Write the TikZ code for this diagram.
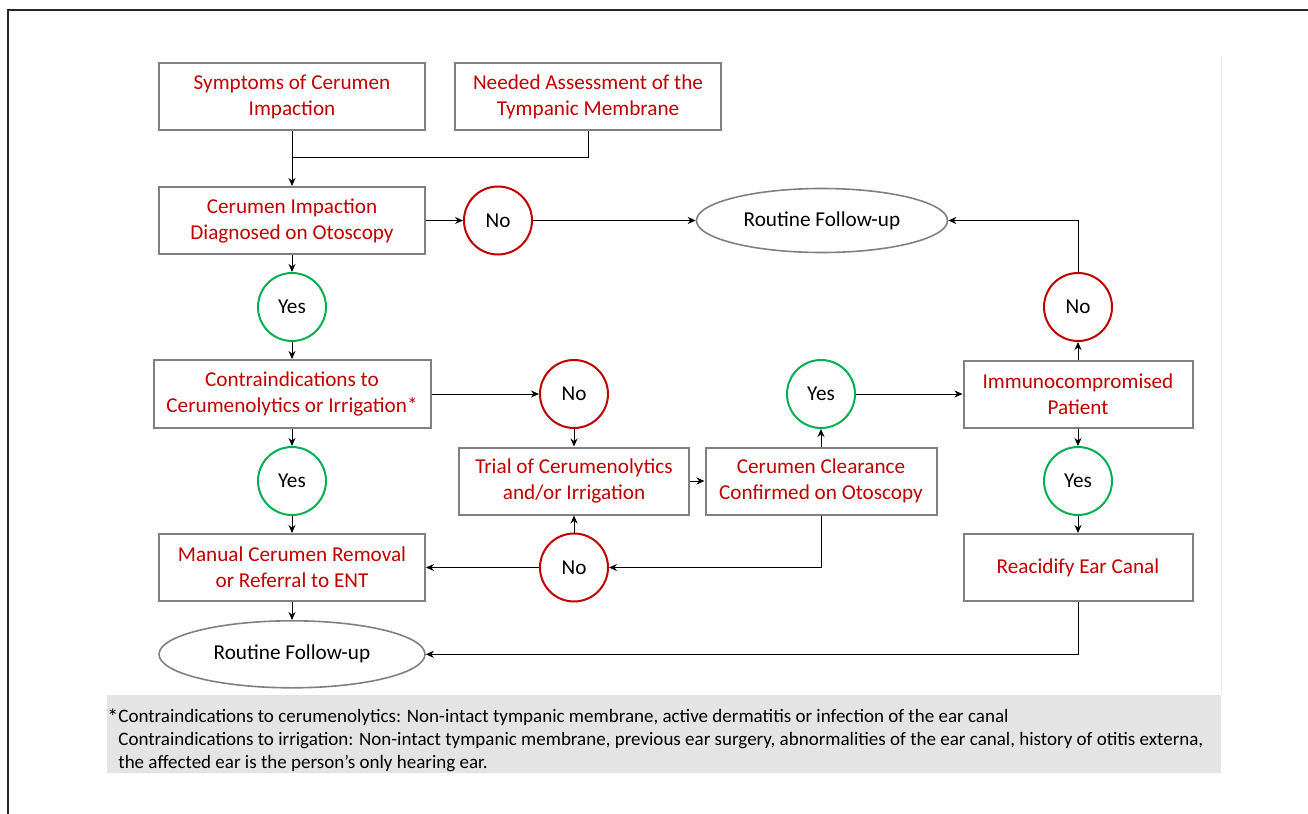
\documentclass[tikz,border=0pt]{standalone}
\usepackage{fontspec}
\setmainfont{Carlito}
\usetikzlibrary{arrows.meta,shapes.geometric,positioning}
\definecolor{flowred}{RGB}{192,0,0}
\definecolor{flowgreen}{RGB}{0,176,80}
\definecolor{boxgray}{RGB}{128,128,128}
\definecolor{notegray}{RGB}{228,228,228}

\begin{document}
\begin{tikzpicture}[
        x=0.5pt, y=-0.5pt,
        node distance=8.5pt,
        every node/.style={font=\fontsize{10.6}{13}\selectfont},
        box/.style={draw=boxgray, line width=1pt, text=flowred, align=center, minimum width=133pt, minimum height=33.5pt, inner sep=2pt},
        yes/.style={circle, draw=flowgreen, line width=1pt, minimum size=34pt, inner sep=0pt},
        no/.style={circle, draw=flowred, line width=1pt, minimum size=34pt, inner sep=0pt},
        followup/.style={ellipse, draw=boxgray, line width=0.8pt, minimum width=133pt, minimum height=33.5pt},
        arrow/.style={-{Stealth[length=4pt,width=3.5pt]}, line width=0.5pt},
        link/.style={line width=0.5pt}
    ]
        \useasboundingbox (0,0) rectangle (1308,814);
        % frame and note panel
        \draw[line width=0.7pt, black!85] (8,814) -- (8,10) -- (1308,10);
        \draw[black!7, line width=0.5pt] (1221,56) -- (1221,695);
        \fill[notegray] (107,695) rectangle (1221,773);

        % left column
        \node[box] (sym) at (292,96.5) {Symptoms of Cerumen\\Impaction};
        \node[box, right=14pt of sym] (need) {Needed Assessment of the\\Tympanic Membrane};
        \node[box, below=27.5pt of sym] (diag) {Cerumen Impaction\\Diagnosed on Otoscopy};
        \node[yes, below=of diag] (yes1) {Yes};
        \node[box, below=of yes1, minimum width=138.5pt, minimum height=34pt] (contra) {Contraindications to\\Cerumenolytics or Irrigation*};
        \node[yes, below=of contra] (yes2) {Yes};
        \node[box, below=of yes2] (manual) {Manual Cerumen Removal\\or Referral to ENT};
        \node[followup, below=9pt of manual] (rbot) {Routine Follow-up};

        % middle and right
        \node[no] (no1) at (diag -| 498,0) {No};
        \node[followup, minimum width=125.5pt, minimum height=32pt] (rtop) at (diag -| 822,0) {Routine Follow-up};
        \node[no] (no2) at (contra -| 574,0) {No};
        \node[box, minimum width=115pt] (trial) at (yes2 -| 574,0) {Trial of Cerumenolytics\\and/or Irrigation};
        \node[box, minimum width=115.5pt] (clear) at (yes2 -| 821,0) {Cerumen Clearance\\Confirmed on Otoscopy};
        \node[yes] (yes3) at (contra -| 821,0) {Yes};
        \node[no] (no4) at (manual -| 574,0) {No};
        \node[box, minimum width=114.5pt] (immuno) at (contra -| 1078,0) {Immunocompromised\\Patient};
        \node[no] (no3) at (yes1 -| 1078,0) {No};
        \node[yes] (yes4) at (yes2 -| 1078,0) {Yes};
        \node[box, minimum width=114.5pt] (reacid) at (manual -| 1078,0) {Reacidify Ear Canal};

        % footnote
        \node[anchor=north west, inner sep=0pt, font=\fontsize{11}{13}\selectfont] (star) at (107,708) {*};
        \node[anchor=north west, inner sep=0pt, align=left, font=\fontsize{9.5}{11.5}\selectfont] (note) at (118,709) {Contraindications to cerumenolytics: Non-intact tympanic membrane, active dermatitis or infection of the ear canal\\Contraindications to irrigation: Non-intact tympanic membrane, previous ear surgery, abnormalities of the ear canal, history of otitis externa,\\the affected ear is the person’s only hearing ear.};

        % connectors
        \coordinate (join) at (sym.south |- 0,157);
        \draw[arrow] (sym) -- (diag);
        \draw[link] (need.south) |- (join);
        \draw[arrow] (diag) -- (no1);
        \draw[arrow] (no1) -- (rtop);
        \draw[arrow] (diag) -- (yes1);
        \draw[arrow] (yes1) -- (contra);
        \draw[arrow] (contra) -- (yes2);
        \draw[arrow] (yes2) -- (manual);
        \draw[arrow] (manual) -- (rbot);
        \draw[arrow] (contra) -- (no2);
        \draw[arrow] (no2) -- (trial);
        \draw[arrow] (trial) -- (clear);
        \draw[arrow] (clear) -- (yes3);
        \draw[arrow] (yes3) -- (immuno);
        \draw[arrow] (immuno) -- (no3);
        \draw[arrow] (no3) |- (rtop);
        \draw[arrow] (immuno) -- (yes4);
        \draw[arrow] (yes4) -- (reacid);
        \draw[arrow] (reacid) |- (rbot);
        \draw[arrow] (clear) |- (no4);
        \draw[arrow] (no4) -- (trial);
        \draw[arrow] (no4) -- (manual);
    \end{tikzpicture}
\end{document}
